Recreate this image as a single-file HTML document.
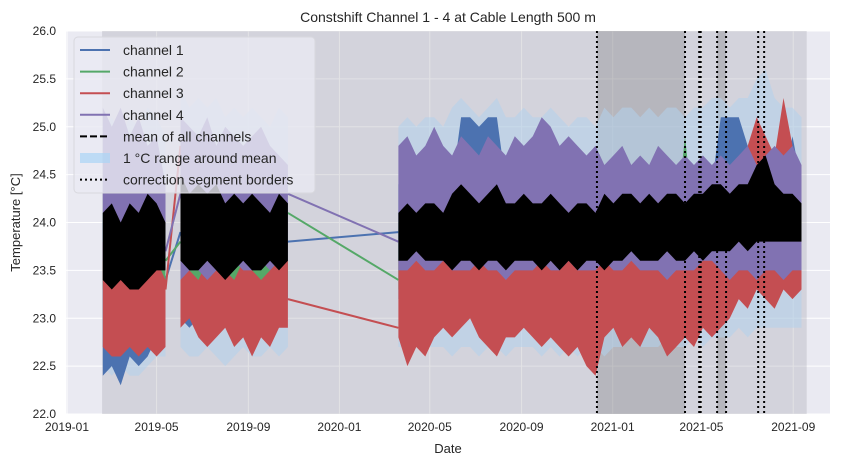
<!DOCTYPE html>
<html><head><meta charset="utf-8"><style>
body{margin:0;background:#fff;font-family:"Liberation Sans",sans-serif}
svg{display:block}
</style></head><body>
<svg id="c" width="851" height="466" xmlns="http://www.w3.org/2000/svg"></svg>
<script>
const segDays=[[48,60,72,84,96,108,120,132],[152,164,176,188,200,212,224,236,248,260,272,284,296],[]];
for(let d=444;d<=984;d+=12)segDays[2].push(d);
const ch4Hi=[25.2,25.0,25.2,24.9,25.1,24.8,24.9,24.4, 25.1,25.0,24.9,25.1,24.8,25.0,24.9,24.8,24.9,25.0,24.8,24.7,24.6,
24.8,24.9,24.7,24.8,25.0,24.8,24.7,24.9,24.8,24.7,24.9,24.8,24.7,24.9,24.8,24.9,25.1,25.0,24.8,24.9,24.8,24.7,24.8,24.6,24.7,24.8,24.6,24.7,24.6,24.8,24.7,24.6,24.7,24.6,24.7,24.6,24.7,24.6,24.7,24.8,24.6,24.7,24.8,24.7,24.8,24.6];
const ch4Lo=[23.6,23.5,23.6,23.5,23.5,23.6,23.5,23.6, 23.4,23.5,23.5,23.4,23.5,23.5,23.6,23.5,23.5,23.6,23.5,23.6,23.6,
23.5,23.5,23.6,23.5,23.5,23.6,23.5,23.5,23.5,23.6,23.5,23.5,23.4,23.5,23.5,23.5,23.6,23.5,23.5,23.6,23.5,23.5,23.5,23.6,23.5,23.5,23.6,23.5,23.5,23.5,23.4,23.5,23.5,23.5,23.6,23.6,23.5,23.4,23.5,23.5,23.4,23.5,23.5,23.4,23.5,23.5];
const ch3Hi=[23.8,23.6,23.7,23.6,23.5,23.7,23.6,23.4, 23.6,23.5,23.4,23.6,23.5,23.5,23.4,23.6,23.5,23.4,23.5,23.6,23.6,
23.6,23.7,23.6,23.6,23.7,23.6,23.6,23.7,23.6,23.6,23.7,23.6,23.6,23.6,23.7,23.6,23.6,23.6,23.7,23.6,23.6,23.6,23.6,23.7,23.6,23.6,23.6,23.6,23.7,23.6,23.6,23.6,23.6,23.6,23.7,23.6,23.8,24.6,24.4,24.8,25.1,24.9,24.7,25.3,24.8,24.5];
const ch3Lo=[22.7,22.6,22.6,22.7,22.6,22.7,22.6,22.7, 22.9,23.0,22.8,22.7,22.8,22.9,22.7,22.8,22.6,22.8,22.7,22.9,22.9,
22.8,22.5,22.7,22.6,22.8,22.9,22.8,22.9,23.0,22.8,22.7,22.6,22.8,22.8,22.9,22.8,22.7,22.8,22.7,22.6,22.7,22.5,22.4,22.8,22.9,22.7,22.8,22.7,22.9,22.8,22.6,22.7,22.8,22.7,22.9,22.8,22.9,23.0,23.2,23.1,23.3,23.2,23.1,23.3,23.2,23.3];
const ch1Hi=[24.0,24.0,24.0,24.0,24.0,24.0,24.0,24.0, 24.2,24.2,24.2,24.2,24.2,24.2,24.2,24.2,24.2,24.2,24.2,24.2,24.2,
24.4,24.4,24.4,24.4,24.4,24.4,24.4,25.1,25.1,25.0,25.1,25.1,24.4,24.4,24.4,24.4,24.4,24.4,24.4,24.4,24.4,24.4,24.4,24.4,24.4,24.4,24.4,24.4,24.4,24.4,24.4,24.4,24.4,24.4,24.4,24.4,25.1,25.1,25.1,24.8,24.4,24.4,24.4,24.4,24.9,24.4];
const ch1Lo=[22.4,22.5,22.3,22.6,22.5,22.6,22.8,22.9, 23.0,22.9,23.0,22.8,23.0,23.1,22.9,23.0,23.1,23.0,23.0,23.1,23.2,
23.2,23.2,23.2,23.2,23.2,23.2,23.2,23.2,23.2,23.2,23.2,23.2,23.2,22.9,22.9,23.2,23.2,23.2,23.2,23.2,23.2,23.2,23.2,23.2,23.2,22.8,22.8,22.8,23.2,23.2,22.7,23.2,23.2,22.8,23.2,23.2,23.3,23.3,23.3,23.3,23.4,23.4,23.4,23.4,23.4,23.4];
const ch2Hi=[24.1,24.1,24.1,24.1,24.1,24.1,24.1,24.1, 24.0,24.0,24.0,24.0,24.0,24.0,24.0,24.0,24.0,24.0,24.0,24.0,24.0,
24.0,24.0,24.0,24.0,24.0,24.0,24.0,24.0,24.0,24.0,24.0,24.0,24.0,24.0,24.0,24.0,24.0,24.0,24.0,24.0,24.0,24.0,24.0,24.0,24.0,24.0,24.0,24.0,24.0,24.0,24.0,24.0,24.9,24.0,24.0,24.0,24.0,24.0,24.0,24.0,24.0,24.0,24.0,24.0,24.0,24.0];
const ch2Lo=[23.3,23.3,23.3,23.3,23.3,23.3,23.3,23.3, 23.3,23.3,23.3,23.3,23.3,23.3,23.3,23.3,23.3,23.3,23.3,23.3,23.3,
23.3,23.3,23.3,23.3,23.3,23.3,23.3,23.3,23.3,23.3,23.3,23.3,23.3,23.3,23.3,23.3,23.3,23.3,23.3,23.3,23.3,23.3,23.3,23.3,23.3,23.3,23.3,23.3,23.3,23.3,23.3,23.3,23.3,23.3,23.3,23.3,23.4,23.4,23.4,23.4,23.4,23.4,23.4,23.4,23.4,23.4];
const meanLo=[23.4,23.3,23.4,23.3,23.3,23.4,23.5,23.5, 23.6,23.5,23.5,23.6,23.5,23.4,23.5,23.6,23.5,23.5,23.6,23.5,23.6,
23.6,23.6,23.7,23.6,23.6,23.6,23.5,23.6,23.6,23.5,23.6,23.6,23.5,23.6,23.6,23.6,23.5,23.6,23.5,23.6,23.5,23.6,23.6,23.5,23.6,23.6,23.7,23.6,23.6,23.6,23.7,23.6,23.6,23.7,23.6,23.7,23.7,23.7,23.8,23.7,23.8,23.8,23.8,23.8,23.8,23.8];
const meanHi=[24.1,24.2,24.0,24.2,24.1,24.3,24.2,24.0, 24.5,24.3,24.4,24.3,24.4,24.2,24.3,24.2,24.3,24.2,24.1,24.3,24.2,
24.1,24.2,24.1,24.2,24.2,24.1,24.3,24.4,24.3,24.2,24.3,24.4,24.2,24.2,24.3,24.2,24.2,24.3,24.2,24.1,24.2,24.2,24.1,24.3,24.2,24.3,24.3,24.2,24.3,24.2,24.3,24.3,24.2,24.3,24.3,24.4,24.4,24.3,24.4,24.4,24.6,24.7,24.4,24.3,24.3,24.2];
const link1=[23.4,23.6,23.3,23.7], link1b=[23.9,23.8,24.8,24.3];
const link2=[23.8,24.1,23.2,24.3], link2b=[23.9,23.4,22.9,23.8];
const borderDays=[710,828,847,849,871,883,926,934];
const darkSpans=[[710,828],[871,883]];
const lightSpan=[47,991];
const yTicks=[22.0,22.5,23.0,23.5,24.0,24.5,25.0,25.5,26.0];
const xTickDays=[0,120,243,365,486,609,731,850,973];
const xTickLabels=["2019-01","2019-05","2019-09","2020-01","2020-05","2020-09","2021-01","2021-05","2021-09"];

const L=66,R=830,T=31,B=414;
const X=d=>67+d*0.7464;
const Y=v=>T+(26-v)*(B-T)/4;
const svg=document.getElementById('c');
const NS="http://www.w3.org/2000/svg";
function mk(tag,attrs,parent){const e=document.createElementNS(NS,tag);for(const k in attrs)e.setAttribute(k,attrs[k]);(parent||svg).appendChild(e);return e;}

let e=mk('rect',{x:L,y:T,width:R-L,height:B-T,fill:'#EAEAF2'});


yTicks.forEach(v=>{
  let g=mk('line',{x1:L,x2:R,y1:Y(v),y2:Y(v),stroke:'#fff','stroke-width':1});
  
  
  let t=mk('text',{x:L-10,y:Y(v)+4,'text-anchor':'end','font-size':12,fill:'#262626'});t.textContent=v.toFixed(1);
  
  
});
xTickDays.forEach((d,i)=>{
  let g=mk('line',{x1:X(d),x2:X(d),y1:T,y2:B,stroke:'#fff','stroke-width':1});
  
  
  let t=mk('text',{x:X(d),y:B+17,'text-anchor':'middle','font-size':12,fill:'#262626'});t.textContent=xTickLabels[i];
  
  
});
e=mk('rect',{x:X(lightSpan[0]),y:T,width:X(lightSpan[1])-X(lightSpan[0]),height:B-T,fill:'#a0a0a8','fill-opacity':0.3});


darkSpans.forEach(s=>{
  let r=mk('rect',{x:X(s[0]),y:T,width:X(s[1])-X(s[0]),height:B-T,fill:'#808085','fill-opacity':0.35});
  
  
});
const segIdx=[];let off=0;segDays.forEach(s=>{segIdx.push([off,off+s.length]);off+=s.length;});
const allDays=[].concat(...segDays);
function band(lo,hi,fill,op,name,shift){
  segIdx.forEach(([a,b])=>{
    let top=[],bot=[];
    for(let i=a;i<b;i++){top.push(X(allDays[i]).toFixed(1)+','+Y(hi[i]+shift).toFixed(1));bot.unshift(X(allDays[i]).toFixed(1)+','+Y(lo[i]-shift).toFixed(1));}
    let p=mk('polygon',{points:top.concat(bot).join(' '),fill:fill,'fill-opacity':op});
    
    
  });
}
band(meanLo,meanHi,'#b3d1ec',0.55,'mean-range-band',0.9);
const colors=['#4c72b0','#55a868','#c44e52','#8172b2'];
[[ch1Lo,ch1Hi],[ch2Lo,ch2Hi],[ch3Lo,ch3Hi],[ch4Lo,ch4Hi]].forEach((c,i)=>{
  band(c[0],c[1],colors[i],1,'channel-'+(i+1)+'-series',0);
  let l1=mk('line',{x1:X(segDays[0][segDays[0].length-1]),y1:Y(link1[i]),x2:X(segDays[1][0]),y2:Y(link1b[i]),stroke:colors[i],'stroke-width':2});
  
  
  let l2=mk('line',{x1:X(segDays[1][segDays[1].length-1]),y1:Y(link2[i]),x2:X(segDays[2][0]),y2:Y(link2b[i]),stroke:colors[i],'stroke-width':2});
  
  
});
band(meanLo,meanHi,'#000',1,'mean-series',0);
borderDays.forEach(d=>{
  let l=mk('line',{x1:X(d),x2:X(d),y1:T,y2:B,stroke:'#000','stroke-width':2,'stroke-dasharray':'2,3'});
  
  
});
e=mk('text',{x:(L+R)/2,y:22,'text-anchor':'middle','font-size':14,fill:'#262626'});e.textContent='Constshift Channel 1 - 4 at Cable Length 500 m';


e=mk('text',{x:(L+R)/2,y:453,'text-anchor':'middle','font-size':13,fill:'#262626'});e.textContent='Date';


e=mk('text',{x:20,y:(T+B)/2,'text-anchor':'middle','font-size':13,fill:'#262626',transform:'rotate(-90 20 '+(T+B)/2+')'});e.textContent='Temperature [°C]';


const lg=mk('g',{});


mk('rect',{x:74,y:37,width:241,height:156,rx:4,fill:'#EAEAF2','fill-opacity':0.8,stroke:'#d8d8de'},lg);
const items=[['channel 1','line','#4c72b0'],['channel 2','line','#55a868'],['channel 3','line','#c44e52'],['channel 4','line','#8172b2'],['mean of all channels','dash','#000'],['1 °C range around mean','patch','#a9d4f5'],['correction segment borders','dot','#000']];
items.forEach((it,i)=>{
  const y=50+i*21.6;
  const g=mk('g',{},lg);
  
  
  if(it[1]==='patch')mk('rect',{x:80,y:y-5,width:30,height:10,fill:it[2],'fill-opacity':0.7},g);
  else mk('line',{x1:80,x2:110,y1:y,y2:y,stroke:it[2],'stroke-width':2,'stroke-dasharray':it[1]==='dash'?'7,3':it[1]==='dot'?'2,3':'none'},g);
  const t=mk('text',{x:123,y:y+5,'font-size':14,fill:'#262626'},g);t.textContent=it[0];
});
</script>
</body></html>
